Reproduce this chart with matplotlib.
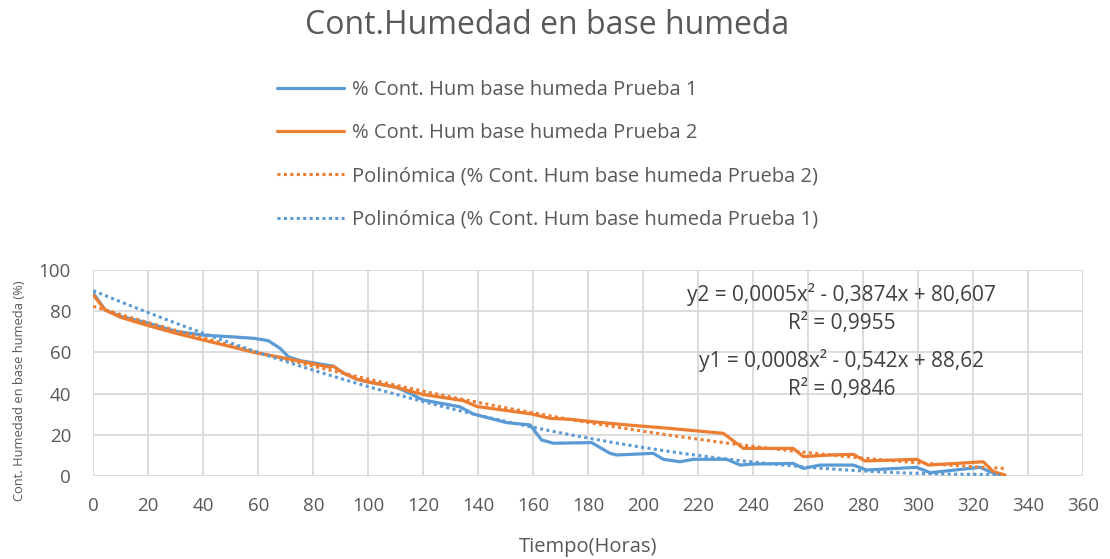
import numpy as np
import matplotlib.pyplot as plt

# Prueba 1 (horas, % humedad base humeda)
t1 = [0, 4.3, 10, 20, 30, 40, 50, 58.7, 63.6, 67.9, 70.9, 75.2, 82.4, 87.3, 90.9, 95.8,
      99.4, 110.3, 115.2, 119.8, 133.3, 138.2, 150.3, 158.8, 163, 167.3, 181.2, 187.9,
      190.3, 203.6, 207.3, 213.3, 218.2, 230.3, 235.2, 240, 254.5, 258.2, 264.3, 276.4,
      281.2, 299.4, 304.3, 322.4, 326, 329.7]
h1 = [88.8, 80.6, 77.5, 74.2, 70.2, 68.4, 67.6, 66.8, 65.7, 62.0, 57.9, 56.0, 54.4, 53.3,
      50.0, 47.0, 45.8, 43.0, 40.1, 36.9, 33.6, 30.1, 25.9, 24.8, 17.5, 15.9, 16.2, 11.0,
      10.2, 11.0, 8.1, 6.9, 8.1, 8.1, 5.3, 5.8, 6.1, 3.7, 5.3, 5.3,
      2.9, 4.2, 1.6, 4.2, 2.1, 0.5]

# Prueba 2
t2 = [0, 4.3, 10, 20, 30, 40, 50, 58.7, 70, 78, 86, 87.3, 90.9, 95.8, 99.4, 110.3, 115.2,
      119.8, 134.5, 139.6, 159.4, 166, 173.3, 181.2, 194, 209.7, 229.1, 236.4, 254.5,
      258.2, 267.9, 276.4, 280.6, 299.4, 303.6, 323.6, 327.3, 331.5]
h2 = [87.9, 80.6, 77.0, 73.0, 69.3, 66.0, 62.8, 59.9, 57.1, 55.0, 52.8, 53.3, 50.0, 47.0,
      45.8, 43.0, 41.2, 39.6, 36.6, 33.7, 30.1, 28.0, 27.5, 26.4, 24.8, 23.1, 20.7, 13.4,
      13.4, 9.4, 10.2, 10.5, 7.3, 8.1, 5.3, 6.9, 2.1, 0.5]

labels = ['% Cont. Hum base humeda Prueba 1',
          '% Cont. Hum base humeda Prueba 2',
          'Polinómica (% Cont. Hum base humeda Prueba 2)',
          'Polinómica (% Cont. Hum base humeda Prueba 1)']

eq_labels = ['y2 = 0,0005x² - 0,3874x + 80,607', 'R² = 0,9955',
             'y1 = 0,0008x² - 0,542x + 88,62', 'R² = 0,9846']

blue = '#5b9bd5'
orange = '#ed7d31'
grey = '#595959'

plt.rcParams['font.family'] = ['Open Sans', 'DejaVu Sans']

fig = plt.figure(figsize=(11.1, 5.59), dpi=100)
ax = fig.add_axes([0.084, 0.1485, 0.892, 0.3685])

l1, = ax.plot(t1, h1, color=blue, lw=2.3, solid_capstyle='round')
l2, = ax.plot(t2, h2, color=orange, lw=2.3, solid_capstyle='round')

# tendencia polinomica de grado 2 ajustada a cada prueba
c1 = np.polyfit(t1, h1, 2)
c2 = np.polyfit(t2, h2, 2)
xf1 = np.linspace(0, max(t1), 200)
xf2 = np.linspace(0, max(t2), 200)
dot = (0, (1, 1.1))
p2, = ax.plot(xf2, np.polyval(c2, xf2), color=orange, lw=2.2, ls=dot)
p1, = ax.plot(xf1, np.polyval(c1, xf1), color=blue, lw=2.2, ls=dot)

ax.set_xlim(0, 360)
ax.set_ylim(0, 100)
ax.set_xticks(np.arange(0, 361, 20))
ax.set_yticks(np.arange(0, 101, 20))
ax.grid(True, color='#d9d9d9', lw=1.3)
ax.set_axisbelow(True)
for s in ax.spines.values():
    s.set_visible(False)
ax.tick_params(length=0, labelsize=13.5, colors=grey)
ax.tick_params(axis='x', pad=15)
ax.tick_params(axis='y', pad=16)

ax.set_xlabel('Tiempo(Horas)', fontsize=14.5, color=grey)
ax.xaxis.set_label_coords(0.5, -0.295)
ax.set_ylabel('Cont. Humedad en base humeda (%)', fontsize=9.3, color=grey)
ax.yaxis.set_label_coords(-0.068, 0.413)

# ecuaciones de las tendencias
eq_y = [88.3, 73.8, 56.0, 42.0]
for txt, yy in zip(eq_labels, eq_y):
    ax.text(272, yy, txt, fontsize=15, color='#404040', ha='center', va='center')

fig.text(0.493, 0.940, 'Cont.Humedad en base humeda', fontsize=23, color=grey,
         ha='center', va='baseline')

fig.legend([l1, l2, p2, p1], labels, loc='upper left', bbox_to_anchor=(0.2335, 0.890),
           frameon=False, fontsize=14.5, labelcolor=grey, handlelength=3.3,
           labelspacing=1.16, handletextpad=0.4)

fig.savefig('out.png', dpi=100)
